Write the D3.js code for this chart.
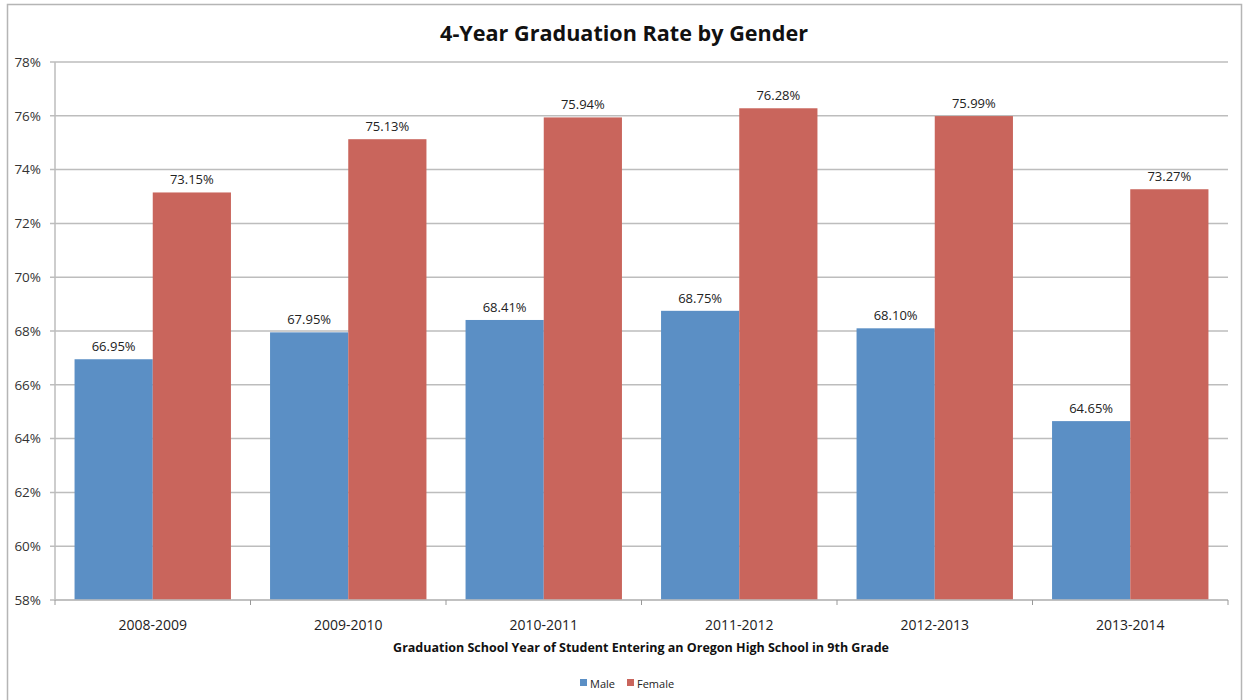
<!DOCTYPE html>
<html>
<head>
<meta charset="utf-8">
<script src="https://cdn.jsdelivr.net/npm/d3@7"></script>
<style>
  body { margin: 0; background: #fff; }
  text { font-family: "Open Sans", Lato, sans-serif; }
</style>
</head>
<body>
<div id="chart"></div>
<script>
// Data
let years = ["2008-2009", "2009-2010", "2010-2011", "2011-2012", "2012-2013", "2013-2014"];
let male = [66.95, 67.95, 68.41, 68.75, 68.10, 64.65];
let female = [73.15, 75.13, 75.94, 76.28, 75.99, 73.27];
let series = ["Male", "Female"];
let yTicks = [58, 60, 62, 64, 66, 68, 70, 72, 74, 76, 78];

let W = 1244, H = 700;
let colors = { Male: "#5b8fc5", Female: "#c9655c" };

let svg = d3.select("#chart")
    .append("svg")
    .attr("width", W)
    .attr("height", H);

// outer frame
svg.append("rect")
    .attr("x", 7.5).attr("y", 4.5)
    .attr("width", 1234).attr("height", 700)
    .attr("fill", "none")
    .attr("stroke", "#b5b5b5")
    .attr("stroke-width", 1.5);

let margin = { top: 62, left: 55, right: 16, bottom: 100 };
let width = W - margin.left - margin.right;
let height = 600 - margin.top;

let g = svg.append("g")
    .attr("transform", `translate(${margin.left}, ${margin.top})`);

let xScale = d3.scaleBand()
    .domain(years)
    .range([0, width])
    .paddingInner(0.2)
    .paddingOuter(0.1);

let xInner = d3.scaleBand()
    .domain(series)
    .range([0, xScale.bandwidth()]);

let yScale = d3.scaleLinear()
    .domain([58, 78])
    .range([height, 0]);

// gridlines
g.selectAll(".grid")
    .data(yTicks)
    .enter()
    .append("line")
    .attr("class", "grid")
    .attr("x1", -5).attr("x2", width)
    .attr("y1", d => yScale(d)).attr("y2", d => yScale(d))
    .attr("stroke", "#bdbdbd")
    .attr("stroke-width", 1.5);

// y axis line + labels
g.append("line")
    .attr("x1", 0).attr("x2", 0)
    .attr("y1", 0).attr("y2", height)
    .attr("stroke", "#bdbdbd")
    .attr("stroke-width", 1.5);

g.selectAll(".ylab")
    .data(yTicks)
    .enter()
    .append("text")
    .attr("x", -14)
    .attr("y", d => yScale(d))
    .attr("dy", "0.35em")
    .attr("text-anchor", "end")
    .attr("font-size", 13.5)
    .attr("fill", "#333")
    .text(d => d + "%");

// bars
let rows = years.map((y, i) => ({ year: y, Male: male[i], Female: female[i] }));

let groups = g.selectAll(".grp")
    .data(rows)
    .enter()
    .append("g")
    .attr("transform", d => `translate(${xScale(d.year)}, 0)`);

groups.selectAll("rect")
    .data(d => series.map(s => ({ key: s, value: d[s] })))
    .enter()
    .append("rect")
    .attr("x", d => xInner(d.key))
    .attr("y", d => yScale(d.value))
    .attr("width", xInner.bandwidth())
    .attr("height", d => height - yScale(d.value))
    .attr("fill", d => colors[d.key]);

groups.selectAll(".val")
    .data(d => series.map(s => ({ key: s, value: d[s] })))
    .enter()
    .append("text")
    .attr("x", d => xInner(d.key) + xInner.bandwidth() / 2)
    .attr("y", d => yScale(d.value) - 8)
    .attr("text-anchor", "middle")
    .attr("font-size", 13)
    .attr("fill", "#222")
    .text(d => d.value.toFixed(2) + "%");

// x axis
g.append("line")
    .attr("x1", 0).attr("x2", width)
    .attr("y1", height).attr("y2", height)
    .attr("stroke", "#bdbdbd")
    .attr("stroke-width", 1.5);

g.selectAll(".xtick")
    .data(d3.range(years.length + 1))
    .enter()
    .append("line")
    .attr("x1", d => d * width / years.length)
    .attr("x2", d => d * width / years.length)
    .attr("y1", height).attr("y2", height + 5)
    .attr("stroke", "#999")
    .attr("stroke-width", 1);

g.selectAll(".xlab")
    .data(years)
    .enter()
    .append("text")
    .attr("x", d => xScale(d) + xScale.bandwidth() / 2)
    .attr("y", height + 30)
    .attr("text-anchor", "middle")
    .attr("font-size", 14)
    .attr("fill", "#222")
    .text(d => d);

// title
svg.append("text")
    .attr("x", 624)
    .attr("y", 41)
    .attr("text-anchor", "middle")
    .attr("font-size", 21.6)
    .attr("font-weight", "bold")
    .attr("fill", "#111")
    .text("4-Year Graduation Rate by Gender");

// x axis title
svg.append("text")
    .attr("x", 641)
    .attr("y", 652)
    .attr("text-anchor", "middle")
    .attr("font-size", 12.5)
    .attr("font-weight", "bold")
    .attr("fill", "#111")
    .text("Graduation School Year of Student Entering an Oregon High School in 9th Grade");

// legend
let legend = svg.append("g")
    .attr("transform", "translate(580, 684)");
let lx = [0, 47];
series.forEach((s, i) => {
    legend.append("rect")
        .attr("x", lx[i]).attr("y", -5)
        .attr("width", 7).attr("height", 7)
        .attr("fill", colors[s]);
    legend.append("text")
        .attr("x", lx[i] + 10)
        .attr("y", 0)
        .attr("dy", "0.35em")
        .attr("font-size", 11)
        .attr("fill", "#222")
        .text(s);
});
</script>
</body>
</html>
